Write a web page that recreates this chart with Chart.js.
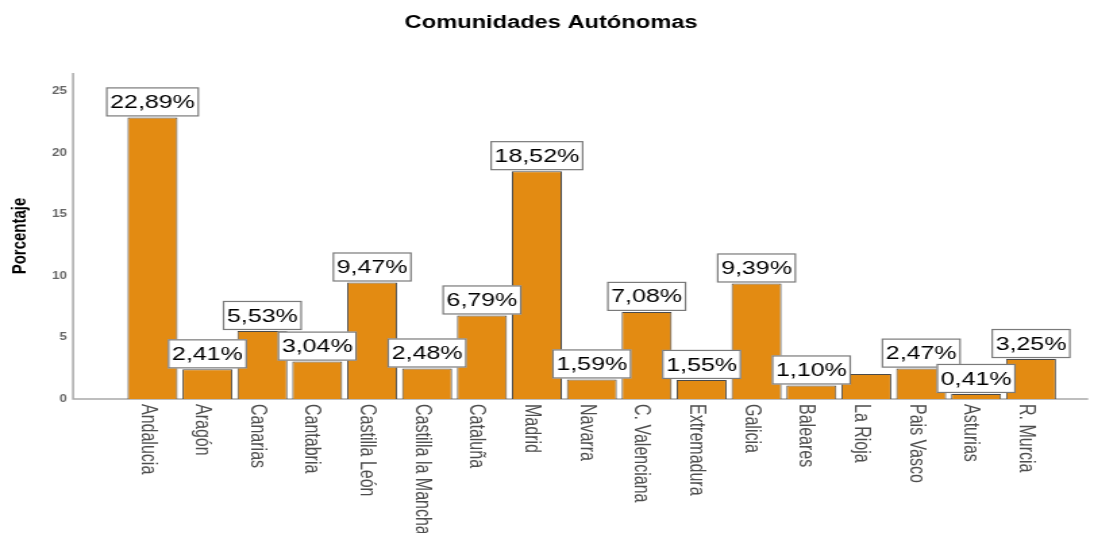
<!DOCTYPE html>
<html lang="es">
<head>
<meta charset="utf-8">
<title>Comunidades Autónomas</title>
<script src="https://cdn.jsdelivr.net/npm/chart.js@4/dist/chart.umd.min.js"></script>
<style>
  body { margin: 0; background: #fff; }
  /* el lienzo se estira en horizontal, igual que la imagen original */
  #grafico { display: block; width: 1094px !important; height: 533px !important; }
</style>
</head>
<body>
<canvas id="grafico" width="810" height="533"></canvas>
<script>
// Datos
const comunidades = ["Andalucia", "Aragón", "Canarias", "Cantabria", "Castilla León",
    "Castilla la Mancha", "Cataluña", "Madrid", "Navarra", "C. Valenciana", "Extremadura",
    "Galicia", "Baleares", "La Rioja", "Pais Vasco", "Asturias", "R. Murcia"];
const porcentajes = [22.89, 2.41, 5.53, 3.04, 9.47, 2.48, 6.79, 18.52, 1.59, 7.08, 1.55,
    9.39, 1.10, 2.03, 2.47, 0.41, 3.25];
// La Rioja no lleva etiqueta en el original
const etiquetas = ["22,89%", "2,41%", "5,53%", "3,04%", "9,47%", "2,48%", "6,79%", "18,52%",
    "1,59%", "7,08%", "1,55%", "9,39%", "1,10%", null, "2,47%", "0,41%", "3,25%"];
const marcasY = [0, 5, 10, 15, 20, 25];

const fuente = '"Liberation Sans", Arial, sans-serif';
Chart.defaults.font.family = fuente;

// Ejes, nombres girados y cajas con el porcentaje
const extras = {
    id: "extras",
    beforeDatasetsDraw(chart) {
        const { ctx, chartArea } = chart;
        const x0 = chartArea.left - 38.5;
        ctx.save();
        ctx.strokeStyle = "#a9a9a9";
        ctx.lineWidth = 1.5;
        ctx.beginPath();
        ctx.moveTo(x0, chartArea.top);
        ctx.lineTo(x0, chartArea.bottom);
        ctx.lineTo(chartArea.right + 22, chartArea.bottom);
        ctx.stroke();
        ctx.restore();
    },
    afterDatasetsDraw(chart) {
        const { ctx, chartArea } = chart;
        const barras = chart.getDatasetMeta(0).data;
        ctx.save();
        ctx.font = "16px " + fuente;
        ctx.fillStyle = "#4d4d4d";
        ctx.textAlign = "left";
        ctx.textBaseline = "middle";
        barras.forEach((b, i) => {
            ctx.save();
            ctx.translate(b.x - 4, chartArea.bottom + 5);
            ctx.rotate(Math.PI / 2);
            ctx.fillText(comunidades[i], 0, 0);
            ctx.restore();
        });
        ctx.font = "18.5px " + fuente;
        ctx.textAlign = "center";
        barras.forEach((b, i) => {
            if (!etiquetas[i]) return;
            const ancho = ctx.measureText(etiquetas[i]).width + 6;
            const alto = 29;
            const x = b.x - ancho / 2;
            const y = b.y - 1 - alto;
            ctx.fillStyle = "#fff";
            ctx.fillRect(x, y, ancho, alto);
            ctx.strokeStyle = "#7a7a7a";
            ctx.lineWidth = 1.2;
            ctx.strokeRect(x + 0.5, y + 0.5, ancho - 1, alto - 1);
            ctx.fillStyle = "#000";
            ctx.fillText(etiquetas[i], b.x, y + alto / 2 + 1);
        });
        ctx.restore();
    }
};

new Chart(document.getElementById("grafico"), {
    type: "bar",
    data: {
        labels: comunidades,
        datasets: [
            {
                label: "Porcentaje",
                data: porcentajes,
                backgroundColor: "#E38B12",
                borderColor: "#4a4a4a",
                borderWidth: 1,
                barPercentage: 0.91,
                categoryPercentage: 1
            }
        ]
    },
    options: {
        responsive: false,
        animation: false,
        devicePixelRatio: 1,
        layout: {
            padding: { left: 6, right: 0, top: 0, bottom: 0 }
        },
        plugins: {
            legend: { display: false },
            tooltip: { enabled: false },
            title: {
                display: true,
                text: "Comunidades Autónomas",
                color: "#000",
                font: { size: 17.5, weight: "bold" },
                padding: { top: 12.5, bottom: 39.5 }
            }
        },
        scales: {
            x: {
                grid: { display: false },
                border: { display: false },
                ticks: { display: false },
                afterFit: (s) => { s.height = 134; }
            },
            y: {
                min: 0,
                max: 26.5,
                grid: { display: false, drawTicks: false },
                border: { display: false },
                ticks: { padding: 43, color: "#666", font: { size: 10, weight: "bold" } },
                afterBuildTicks: (s) => { s.ticks = marcasY.map((v) => ({ value: v })); },
                afterFit: (s) => { s.width = 86.6; },
                title: {
                    display: true,
                    text: "Porcentaje",
                    color: "#000",
                    font: { size: 15, weight: "bold" },
                    padding: { top: 0, bottom: 0 }
                }
            },
            y2: {
                position: "right",
                grid: { display: false },
                border: { display: false },
                ticks: { display: false },
                afterFit: (s) => { s.width = 26.3; }
            }
        }
    },
    plugins: [extras]
});
</script>
</body>
</html>
